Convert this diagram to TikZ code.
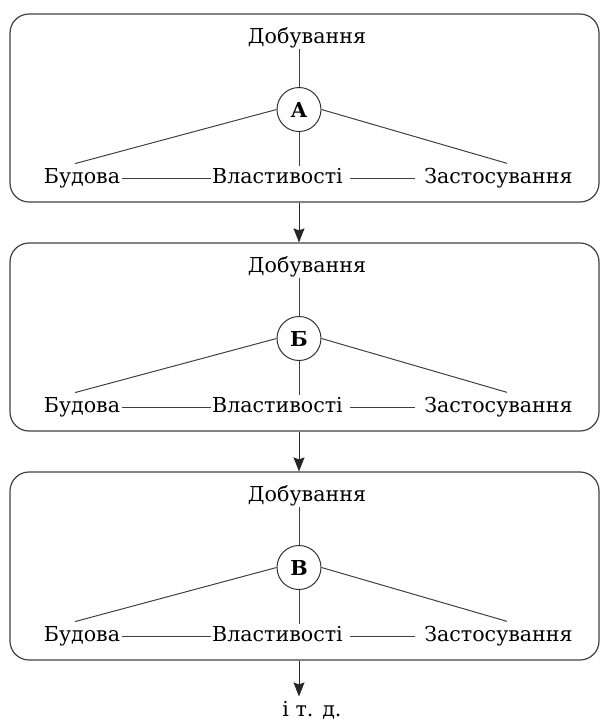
\documentclass[tikz,border=0pt]{standalone}
\usepackage{fontspec}
\setmainfont{DejaVu Serif}
\usetikzlibrary{arrows.meta}

\begin{document}
\begin{tikzpicture}[
  x=0.5pt, y=-0.5pt,
  font=\fontsize{10.3pt}{12pt}\selectfont,
  panel/.style={draw=black!75, rounded corners=9.5pt, line width=0.6pt,
                minimum width=294.5pt, minimum height=94pt},
  word/.style={inner sep=0.5pt, anchor=base},
  hub/.style={circle, draw=black!80, line width=0.5pt, minimum size=22pt,
              inner sep=0pt, font=\fontsize{10.3pt}{12pt}\selectfont\bfseries},
  link/.style={line width=0.5pt, black!75},
  flow/.style={line width=0.5pt, black!85, -{Stealth[length=7pt,width=5.5pt,inset=1pt]}},
]
  \useasboundingbox (0,0) rectangle (604,725);

  % Panel A
  \node[panel] (boxA) at (304.5,108) {};
  \node[word] (dobA) at (307,43) {Добування};
  \node[hub] (hubA) at (299,109.5) {А};
  \node[word] (budA) at (82,183) {Будова};
  \node[word] (vlA) at (277.5,183) {Властивості};
  \node[word] (zasA) at (498.5,183) {Застосування};
  \draw[link] (hubA.north) -- (hubA.north |- dobA.south);
  \draw[link] (hubA.south) -- (hubA.south |- vlA.north);
  \draw[link] (hubA.west) -- ([xshift=-3.5pt,yshift=1.5pt]budA.north);
  \draw[link] (hubA.east) -- ([xshift=4.2pt,yshift=1.5pt]zasA.north);
  \draw[link] ([yshift=2.2pt]budA.base east) -- ([yshift=2.2pt]vlA.base west);
  \draw[link, shorten <=3pt, shorten >=4pt]
    ([yshift=2.2pt]vlA.base east) -- ([yshift=2.2pt]zasA.base west);

  % Panel B
  \node[panel] (boxB) at (304.5,337) {};
  \node[word] (dobB) at (307,272) {Добування};
  \node[hub] (hubB) at (299,338.5) {Б};
  \node[word] (budB) at (82,412) {Будова};
  \node[word] (vlB) at (277.5,412) {Властивості};
  \node[word] (zasB) at (498.5,412) {Застосування};
  \draw[link] (hubB.north) -- (hubB.north |- dobB.south);
  \draw[link] (hubB.south) -- (hubB.south |- vlB.north);
  \draw[link] (hubB.west) -- ([xshift=-3.5pt,yshift=1.5pt]budB.north);
  \draw[link] (hubB.east) -- ([xshift=4.2pt,yshift=1.5pt]zasB.north);
  \draw[link] ([yshift=2.2pt]budB.base east) -- ([yshift=2.2pt]vlB.base west);
  \draw[link, shorten <=3pt, shorten >=4pt]
    ([yshift=2.2pt]vlB.base east) -- ([yshift=2.2pt]zasB.base west);

  % Panel C
  \node[panel] (boxC) at (304.5,566) {};
  \node[word] (dobC) at (307,501) {Добування};
  \node[hub] (hubC) at (299,567.5) {В};
  \node[word] (budC) at (82,641) {Будова};
  \node[word] (vlC) at (277.5,641) {Властивості};
  \node[word] (zasC) at (498.5,641) {Застосування};
  \draw[link] (hubC.north) -- (hubC.north |- dobC.south);
  \draw[link] (hubC.south) -- (hubC.south |- vlC.north);
  \draw[link] (hubC.west) -- ([xshift=-3.5pt,yshift=1.5pt]budC.north);
  \draw[link] (hubC.east) -- ([xshift=4.2pt,yshift=1.5pt]zasC.north);
  \draw[link] ([yshift=2.2pt]budC.base east) -- ([yshift=2.2pt]vlC.base west);
  \draw[link, shorten <=3pt, shorten >=4pt]
    ([yshift=2.2pt]vlC.base east) -- ([yshift=2.2pt]zasC.base west);

  % flow between panels
  \node[word, inner sep=2pt] (etc) at (312,716) {і т. д.};
  \draw[flow] (hubA |- boxA.south) -- (hubA |- boxB.north);
  \draw[flow] (hubB |- boxB.south) -- (hubB |- boxC.north);
  \draw[flow] (hubC |- boxC.south) -- (hubC |- etc.north);
\end{tikzpicture}
\end{document}
